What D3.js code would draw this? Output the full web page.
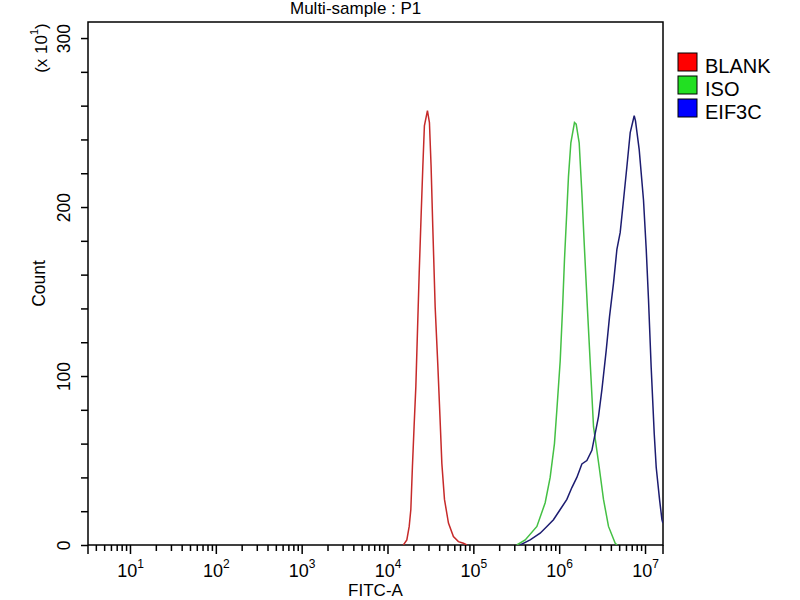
<!DOCTYPE html>
<html>
<head>
<meta charset="utf-8">
<script src="https://d3js.org/d3.v7.min.js"></script>
<style>
  body { margin: 0; background: #fff; }
  text { font-family: Arial, "Liberation Sans", sans-serif; fill: #000; }
</style>
</head>
<body>
<div id="vis"></div>
<script>

// FITC-A value and event count
var blankFitc = [15300, 16800, 17900, 18700, 19500, 20400, 21400, 22300, 23400, 24600, 25800, 26900, 29200,
  30800, 32200, 33700, 35900, 38600, 41000, 43000, 46100, 51300, 58600, 67000, 76700, 84000];
var blankCount = [0, 3, 11, 21, 46, 70, 94, 125, 161, 194, 224, 248, 257,
  250, 224, 188, 141, 106, 74, 48, 27, 13, 5, 2, 1, 0];

var isoFitc = [321000, 402000, 550000, 687000, 785000, 881000, 940000, 1028000, 1093000, 1153000, 1229000, 1283000, 1368000,
  1507000, 1578000, 1710000, 1839000, 1955000, 2138000, 2342000, 2512000, 2926000, 3283000, 3755000, 4496000, 4743000];
var isoCount = [0, 3, 11, 25, 40, 60, 80, 109, 139, 169, 198, 218, 238,
  250, 249, 238, 208, 179, 139, 100, 70, 46, 27, 11, 1, 0];

var eifFitc = [351000, 459000, 600000, 719000, 858000, 1028000, 1229000, 1406000, 1607000, 1839000, 2102000, 2405000,
  2628000, 2871000, 3146000, 3529000, 3857000, 4295000, 4705000, 5140000, 5616000, 6152000, 6723000, 7482000,
  7745000, 8556000, 9605000, 10330000, 10985000, 11800000, 12800000, 13500000, 14760000, 15740000, 16150000];
var eifCount = [0, 3, 7, 11, 15, 21, 27, 34, 40, 48, 50, 56,
  66, 76, 92, 115, 135, 155, 175, 185, 204, 224, 244, 254,
  251, 234, 204, 175, 145, 105, 66, 46, 27, 15, 13];

var seriesNames = ["BLANK", "ISO", "EIF3C"];
var lineColors = ["#c62a2a", "#44c044", "#1c1c70"];
var boxColors = ["#ff0000", "#22e022", "#0000ff"];

var yTickValues = [0, 20, 40, 60, 80, 100, 120, 140, 160, 180, 200, 220, 240, 260, 280, 300];
var yTickLabels = [0, 100, 200, 300];
var xDecades = [1, 2, 3, 4, 5, 6, 7];

var margin = {top: 22, right: 137, bottom: 55, left: 88};
var width = 800 - margin.left - margin.right;
var height = 600 - margin.top - margin.bottom;

var svg = d3.select("#vis").append("svg")
  .attr("width", 800)
  .attr("height", 600);

var g = svg.append("g")
  .attr("transform", "translate(" + margin.left + "," + margin.top + ")");

var x = d3.scaleLog().domain([3.242, 16200000]).range([0, width]);
var y = d3.scaleLinear().domain([0, 309.5]).range([height, 0]);

// minor ticks 2..9 of every decade inside the domain
var minorTicks = [];
for (var k = 0; k <= 7; k++) {
  for (var m = 2; m <= 9; m++) {
    var v = m * Math.pow(10, k);
    if (v > x.domain()[0] && v < x.domain()[1]) minorTicks.push(v);
  }
}

g.append("g")
  .attr("class", "x minor")
  .attr("transform", "translate(0," + height + ")")
  .call(d3.axisBottom(x).tickValues(minorTicks).tickSize(6).tickFormat(""));

var xMajor = g.append("g")
  .attr("class", "x major")
  .attr("transform", "translate(0," + height + ")")
  .call(d3.axisBottom(x).tickValues(xDecades.map(function(e) { return Math.pow(10, e); })).tickSize(9).tickFormat(""));

xMajor.selectAll(".tick").each(function(d, i) {
  var t = d3.select(this).append("text")
    .attr("y", 31.5)
    .attr("text-anchor", "middle")
    .style("font-size", "18px");
  t.append("tspan").text("10");
  t.append("tspan").text(xDecades[i]).attr("dy", -9).style("font-size", "12px");
});

var yAxis = g.append("g")
  .attr("class", "y")
  .call(d3.axisLeft(y).tickValues(yTickValues).tickSize(7).tickFormat(""));

yAxis.selectAll(".tick").filter(function(d) { return yTickLabels.indexOf(d) >= 0; })
  .append("text")
  .attr("transform", "rotate(-90)")
  .attr("x", 0)
  .attr("y", -18)
  .attr("text-anchor", "middle")
  .style("font-size", "17.5px")
  .text(function(d) { return d; });

g.selectAll(".domain").remove();
g.selectAll(".tick line").attr("stroke", "#000").attr("stroke-width", 1.5);

// plot frame, with the side edges running a little below the axis
g.append("rect")
  .attr("width", width)
  .attr("height", height)
  .attr("fill", "none")
  .attr("stroke", "#000")
  .attr("stroke-width", 1.5);
g.selectAll("line.edge")
  .data([0, width])
  .enter().append("line")
  .attr("class", "edge")
  .attr("x1", function(d) { return d; })
  .attr("x2", function(d) { return d; })
  .attr("y1", height)
  .attr("y2", height + 9)
  .attr("stroke", "#000")
  .attr("stroke-width", 1.5);

g.append("clipPath").attr("id", "clip")
  .append("rect").attr("width", width).attr("height", height);

var line = d3.line()
  .x(function(d) { return x(d[0]); })
  .y(function(d) { return y(d[1]); });

var series = [d3.zip(blankFitc, blankCount), d3.zip(isoFitc, isoCount), d3.zip(eifFitc, eifCount)];

g.selectAll("path.hist")
  .data(series)
  .enter().append("path")
  .attr("class", "hist")
  .attr("clip-path", "url(#clip)")
  .attr("d", line)
  .attr("fill", "none")
  .attr("stroke", function(d, i) { return lineColors[i]; })
  .attr("stroke-width", 1.5);

// titles
svg.append("text")
  .attr("x", 290)
  .attr("y", 14)
  .style("font-size", "17px")
  .text("Multi-sample : P1");

svg.append("text")
  .attr("x", margin.left + width / 2)
  .attr("y", 596)
  .attr("text-anchor", "middle")
  .style("font-size", "17px")
  .text("FITC-A");

svg.append("text")
  .attr("transform", "translate(45," + (margin.top + height / 2) + ") rotate(-90)")
  .attr("text-anchor", "middle")
  .style("font-size", "17.5px")
  .text("Count");

var mult = svg.append("text")
  .attr("transform", "translate(47,48) rotate(-90)")
  .attr("text-anchor", "middle")
  .style("font-size", "17px");
mult.append("tspan").text("(x 10");
mult.append("tspan").text("1").attr("dy", -9).style("font-size", "11px");
mult.append("tspan").text(")").attr("dy", 9);

// legend
var legend = svg.selectAll("g.legend")
  .data(seriesNames)
  .enter().append("g")
  .attr("class", "legend")
  .attr("transform", function(d, i) { return "translate(678," + (53 + i * 23) + ")"; });

legend.append("rect")
  .attr("width", 19)
  .attr("height", 18)
  .attr("fill", function(d, i) { return boxColors[i]; })
  .attr("stroke", "#000")
  .attr("stroke-width", 1);

legend.append("text")
  .attr("x", 27)
  .attr("y", 20)
  .style("font-size", "20px")
  .text(function(d) { return d; });

</script>
</body>
</html>
